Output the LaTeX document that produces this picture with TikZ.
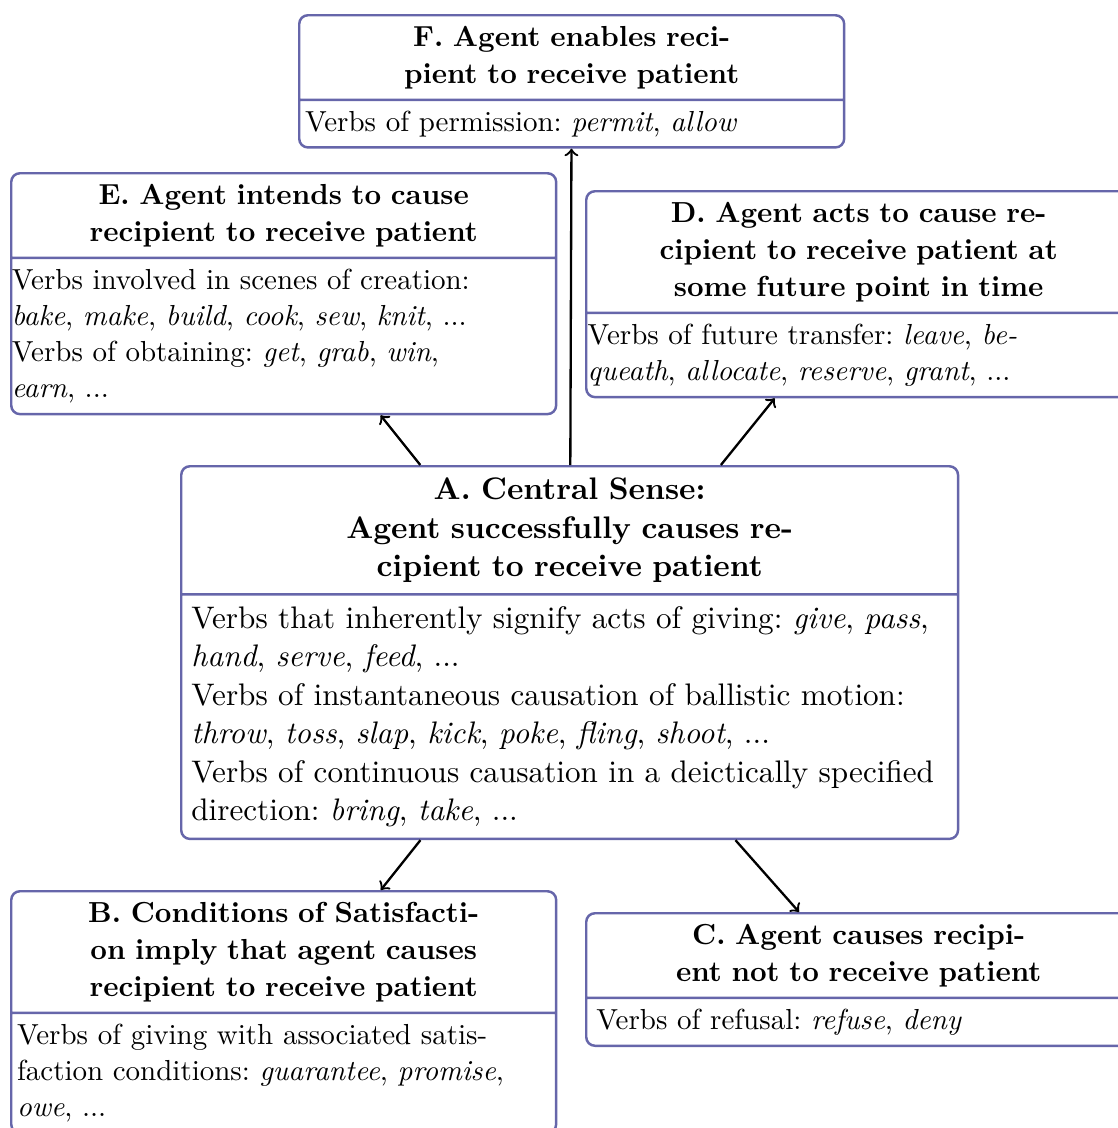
\documentclass[tikz,border=0pt]{standalone}
\usetikzlibrary{shapes.multipart}
\definecolor{boxc}{RGB}{102,102,170}
\newcommand{\Hd}{\bfseries\centering}
\newcommand{\Bd}[1][0pt]{\fontsize{10}{12.5}\selectfont\raggedright\leftskip=#1\relax\ignorespaces}
\newcommand{\BdA}{\fontsize{10.75}{13.3}\selectfont\raggedright}
\begin{document}
\begin{tikzpicture}[x=0.345pt,y=-0.345pt,
  sense/.style={rectangle split, rectangle split parts=2, draw=boxc, line width=0.85pt,
    rounded corners=3pt, inner xsep=3.5pt, inner ysep=3.3pt, text width=181pt,
    anchor=north west, font=\fontsize{10}{12.8}\selectfont\frenchspacing},
  central/.style={text width=261pt, inner ysep=3.6pt,
    font=\fontsize{10.75}{13.3}\selectfont\frenchspacing},
  link/.style={->, line width=0.8pt}]
\useasboundingbox (0,0) rectangle (1118,1128);

\node[sense] (F) at (298,14) {\Hd F. Agent enables reci-\par pient to receive patient\par
  \nodepart{two}\Bd[-1.5pt] Verbs of permission: \emph{permit}, \emph{allow}\par};

\node[sense] (E) at (10,172) {\Hd E. Agent intends to cause\par recipient to receive patient\par
  \nodepart{two}\Bd[-3.3pt] Verbs involved in scenes of creation:\par
  \emph{bake}, \emph{make}, \emph{build}, \emph{cook}, \emph{sew}, \emph{knit}, ...\par
  Verbs of obtaining: \emph{get}, \emph{grab}, \emph{win},\par
  \emph{earn}, ...\par};

\node[sense] (D) at (585,190) {\Hd D. Agent acts to cause re-\par cipient to receive patient at\par some future point in time\par
  \nodepart{two}\Bd[-3pt] Verbs of future transfer: \emph{leave}, \emph{be-}\par
  \emph{queath}, \emph{allocate}, \emph{reserve}, \emph{grant}, ...\par};

\node[sense, central] (A) at (180,465) {\Hd A. Central Sense:\par Agent successfully causes re-\par cipient to receive patient\par
  \nodepart{two}\BdA Verbs that inherently signify acts of giving: \emph{give}, \emph{pass},\par
  \emph{hand}, \emph{serve}, \emph{feed}, ...\par
  Verbs of instantaneous causation of ballistic motion:\par
  \emph{throw}, \emph{toss}, \emph{slap}, \emph{kick}, \emph{poke}, \emph{fling}, \emph{shoot}, ...\par
  Verbs of continuous causation in a deictically specified\par
  direction: \emph{bring}, \emph{take}, ...\par};

\node[sense] (B) at (10,890) {\Hd B. Conditions of Satisfacti-\par on imply that agent causes\par recipient to receive patient\par
  \nodepart{two}\Bd[-1.5pt] Verbs of giving with associated satis-\par
  faction conditions: \emph{guarantee}, \emph{promise},\par
  \emph{owe}, ...\par};

\node[sense] (C) at (585,912) {\Hd C. Agent causes recipi-\par ent not to receive patient\par
  \nodepart{two}\Bd Verbs of refusal: \emph{refuse}, \emph{deny}\par};

\draw[link] (A) -- (F);
\draw[link] (A) -- (E);
\draw[link] (A) -- (D);
\draw[link] (A) -- (B);
\draw[link] (A) -- (C);
\end{tikzpicture}
\end{document}
